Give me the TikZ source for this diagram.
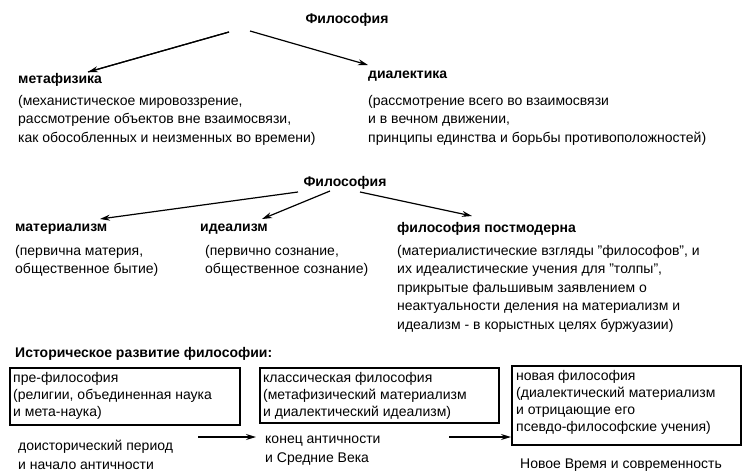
\documentclass[tikz,border=0pt]{standalone}
\usepackage{fontspec}
\setmainfont{Liberation Sans}
\usetikzlibrary{arrows.meta}
\begin{document}
\begin{tikzpicture}[x=1pt,y=-1pt,
  txt/.style={anchor=west,inner sep=0pt,align=left,font=\fontsize{14}{18.5}\selectfont},
  ttl/.style={txt,font=\fontsize{14}{18.5}\selectfont\bfseries},
  arr/.style={line width=1.2pt,-{Stealth[length=10pt,width=6pt]}},
  box/.style={draw,line width=1.2pt}]
\useasboundingbox[fill=white] (0,0) rectangle (753,474);
\node[ttl,anchor=center] (f1) at (347,20) {Философия};
\node[ttl] (meta) at (18,80) {метафизика};
\node[ttl] (dial) at (368,76) {диалектика};
\path (229,32) coordinate (topL) (88,72) coordinate (endL);
\path (250,31) coordinate (topR) (368,65) coordinate (endR);
\draw[line width=1.2pt] (topL) -- (endL);
\draw[arr] (topL) -- (endL);
\draw[arr] (topR) -- (endR);
\node[txt,anchor=north west] (metad) at (18,95) {(механистическое мировоззрение,\\рассмотрение объектов вне взаимосвязи,\\как обособленных и неизменных во времени)};
\node[txt,anchor=north west] (diald) at (368,95) {(рассмотрение всего во взаимосвязи\\и в вечном движении,\\принципы единства и борьбы противоположностей)};
\node[ttl,anchor=center] (f2) at (345,183) {Философия};
\node[ttl] (mat) at (15,229) {материализм};
\node[ttl] (ide) at (200,229) {идеализм};
\node[ttl] (post) at (397,229) {философия постмодерна};
\coordinate (b1s) at (298,192); \coordinate (b1e) at (100,219);
\coordinate (b2s) at (330,191); \coordinate (b2e) at (262,219);
\coordinate (b3s) at (360,192); \coordinate (b3e) at (472,216);
\draw[arr] (b1s) -- (b1e);
\draw[arr] (b2s) -- (b2e);
\draw[arr] (b3s) -- (b3e);
\node[txt,anchor=north west] (matd) at (15,245) {(первична материя,\\общественное бытие)};
\node[txt,anchor=north west] (ided) at (205,245) {(первично сознание,\\общественное сознание)};
\node[txt,anchor=north west] (postd) at (397,245) {(материалистические взгляды "философов", и\\их идеалистические учения для "толпы",\\прикрытые фальшивым заявлением о\\неактуальности деления на материализм и\\идеализм - в корыстных целях буржуазии)};
\node[ttl] (hist) at (15,354) {Историческое развитие философии:};
\draw[box] (10,368) rectangle (240,425);
\draw[box] (260,368) rectangle (499,423);
\draw[box] (512,366) rectangle (741,445);
\node[txt,anchor=north west,font=\fontsize{14}{17}\selectfont] (p1) at (13,372) {пре-философия\\(религии, объединенная наука\\и мета-наука)};
\node[txt,anchor=north west,font=\fontsize{14}{17}\selectfont] (p2) at (263,372) {классическая философия\\(метафизический материализм\\и диалектический идеализм)};
\node[txt,anchor=north west,font=\fontsize{14}{17}\selectfont] (p3) at (516,370) {новая философия\\(диалектический материализм\\и отрицающие его\\псевдо-философские учения)};
\coordinate (c1s) at (198,437); \coordinate (c1e) at (256,437);
\coordinate (c2s) at (449,437); \coordinate (c2e) at (511,437);
\draw[arr] (c1s) -- (c1e);
\draw[arr] (c2s) -- (c2e);
\node[txt,anchor=north west] (t1) at (18,440) {доисторический период\\и начало античности};
\node[txt,anchor=north west] (t2) at (265,436) {конец античности\\и Средние Века};
\node[txt] (t3) at (520,465) {Новое Время и современность};
\end{tikzpicture}
\end{document}
